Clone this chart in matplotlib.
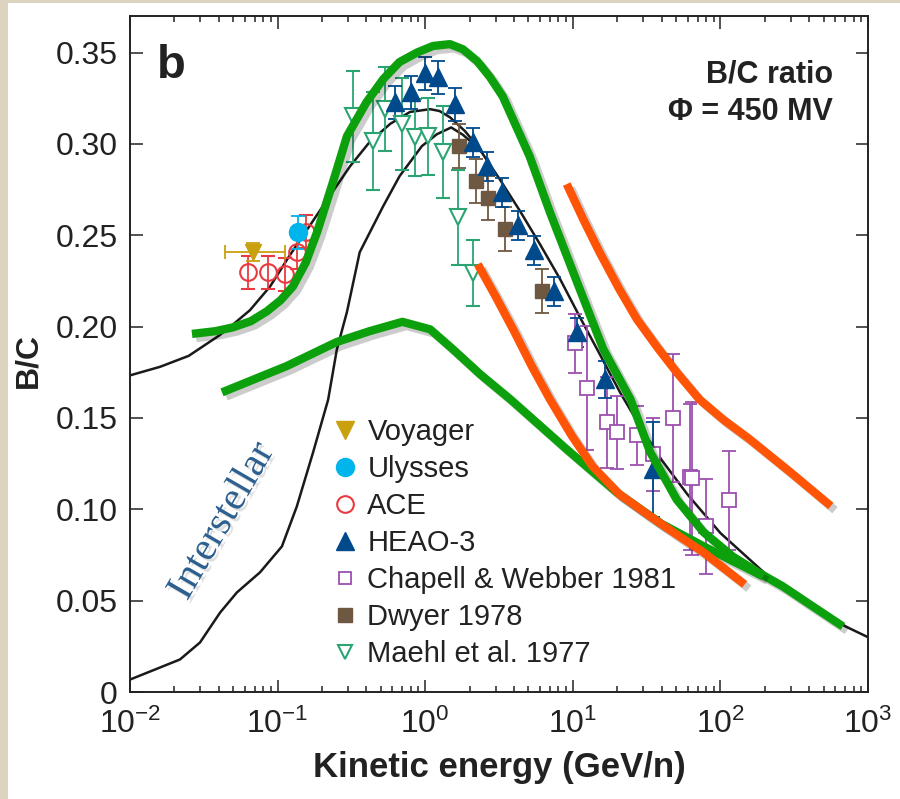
import matplotlib.pyplot as plt
import matplotlib.patheffects as pe
from matplotlib.lines import Line2D
from matplotlib.patches import Rectangle
from matplotlib.ticker import LogLocator, FuncFormatter

plt.rcParams['font.family'] = ['Liberation Sans', 'DejaVu Sans']
plt.rcParams['mathtext.fontset'] = 'custom'
plt.rcParams['mathtext.rm'] = 'Liberation Sans'
plt.rcParams['mathtext.it'] = 'Liberation Sans:italic'
plt.rcParams['mathtext.bf'] = 'Liberation Sans:bold'

# ---- data (E in GeV/n, B/C ratio) ----
voyager_e = [0.068]
voyager_v = [0.241]
voyager_xerr = [[0.024], [0.044]]
voyager_err = [0.005]

ulysses_e = [0.137]
ulysses_v = [0.2516]
ulysses_err = [0.009]

ace_e = [0.063, 0.086, 0.112, 0.135, 0.156]
ace_v = [0.2297, 0.2297, 0.2287, 0.2407, 0.252]
ace_err = [0.009, 0.009, 0.009, 0.009, 0.009]

heao_e = [0.624, 0.801, 0.997, 1.22, 1.59, 2.11, 2.62, 3.31, 4.26, 5.46, 7.46, 10.7, 16.5, 34.9]
heao_v = [0.3228, 0.3283, 0.3387, 0.3365, 0.3217, 0.3009, 0.2878, 0.2735, 0.2555, 0.2418,
          0.2193, 0.1969, 0.1711, 0.1219]
heao_err = [0.009, 0.009, 0.009, 0.009, 0.009, 0.008, 0.008, 0.008, 0.008, 0.008,
            0.008, 0.008, 0.010, 0.026]

chap_e = [10.35, 12.5, 17.1, 19.9, 27.2, 34.9, 47.7, 62.0, 64.3, 79.8, 114]
chap_v = [0.1908, 0.1662, 0.1476, 0.1421, 0.1405, 0.1300, 0.1498, 0.1175, 0.1169, 0.0907, 0.1049]
chap_err = [0.016, 0.034, 0.025, 0.020, 0.016, 0.020, 0.035, 0.040, 0.042, 0.026, 0.027]

dwyer_e = [1.69, 2.21, 2.66, 3.47, 6.18]
dwyer_v = [0.2988, 0.2795, 0.2702, 0.2532, 0.2193]
dwyer_err = [0.012, 0.012, 0.012, 0.012, 0.012]

maehl_e = [0.324, 0.443, 0.534, 0.696, 0.853, 1.045, 1.32, 1.67, 2.11]
maehl_v = [0.3151, 0.3015, 0.3190, 0.3108, 0.3036, 0.3042, 0.2955, 0.2598, 0.2292]
maehl_err = [0.025, 0.027, 0.023, 0.025, 0.021, 0.021, 0.025, 0.026, 0.018]

# model curves
mod_e = [0.01, 0.016, 0.025, 0.04, 0.048, 0.065, 0.089, 0.12, 0.166, 0.23, 0.31, 0.42, 0.58,
         0.79, 1.08, 1.25, 1.47, 1.86, 2.34, 3.2, 4.4, 6.0, 8.2, 11.2, 15.2, 20.9, 28.5,
         40, 60, 100, 200, 400, 700, 1000]
mod_v = [0.1733, 0.178, 0.184, 0.195, 0.200, 0.209, 0.222, 0.2386, 0.2555, 0.2725, 0.2878,
         0.301, 0.311, 0.3175, 0.319, 0.318, 0.3146, 0.307, 0.297, 0.2806, 0.2631, 0.245,
         0.226, 0.205, 0.185, 0.164, 0.1455, 0.127, 0.108, 0.087, 0.065, 0.048, 0.036, 0.030]

ism_e = [0.01, 0.0218, 0.0298, 0.0408, 0.053, 0.076, 0.107, 0.135, 0.174, 0.22, 0.252, 0.295,
         0.36, 0.52, 0.67, 0.95, 1.2, 1.5, 1.8, 2.34]
ism_v = [0.0068, 0.0178, 0.0271, 0.0435, 0.0545, 0.0655, 0.0797, 0.1016, 0.1312, 0.160, 0.1875,
         0.208, 0.2407, 0.266, 0.2823, 0.2988, 0.3053, 0.309, 0.305, 0.297]

# hand-drawn overlays
g1_e = [0.0263, 0.038, 0.0499, 0.066, 0.0847, 0.105, 0.127, 0.155, 0.185, 0.237, 0.295, 0.40,
        0.52, 0.67, 0.88, 1.13, 1.47, 1.8, 2.25, 2.75, 3.35, 5.1, 7.0, 10.7, 16.1, 24.6,
        33.4, 50.5, 76.6, 121, 180, 265, 420, 676]
g1_v = [0.196, 0.1975, 0.1996, 0.203, 0.2084, 0.2145, 0.222, 0.235, 0.2516, 0.279, 0.3042,
        0.3228, 0.3355, 0.3448, 0.350, 0.3536, 0.3546, 0.3518, 0.3453, 0.3365, 0.326,
        0.2932, 0.2626, 0.2242, 0.1876, 0.1602, 0.1314, 0.1054, 0.0876, 0.0742, 0.0655,
        0.0578, 0.047, 0.0359]

g2_e = [0.042, 0.116, 0.252, 0.42, 0.70, 1.08, 1.54, 2.35, 3.75, 9.1, 19.9, 40, 76.6, 195]
g2_v = [0.164, 0.1785, 0.1916, 0.1975, 0.2026, 0.1985, 0.1876, 0.174, 0.1604, 0.1328,
        0.1092, 0.092, 0.0798, 0.0633]

o1_e = [2.27, 3.0, 4.0, 5.3, 7.0, 9.8, 13.6, 20.5, 33.4, 52, 76.6, 146]
o1_v = [0.2341, 0.2165, 0.1975, 0.178, 0.1602, 0.1405, 0.1235, 0.1085, 0.0962, 0.0855,
        0.0765, 0.0589]

o2_e = [9.1, 11.8, 15.2, 20.5, 27.2, 37.5, 50.5, 72, 105, 157, 297, 560]
o2_v = [0.278, 0.2585, 0.2406, 0.221, 0.204, 0.1885, 0.175, 0.1602, 0.149, 0.1385, 0.1204,
        0.1018]

yticks = [0, 0.05, 0.10, 0.15, 0.20, 0.25, 0.30, 0.35]

c_voy = '#c9a00e'
c_uly = '#00b4ec'
c_ace = '#e83a40'
c_heao = '#004a8c'
c_chap = '#9b50ae'
c_dwy = '#6f5841'
c_mae = '#2aa572'
c_green = '#0ca00c'
c_orange = '#ff5306'

fig = plt.figure(figsize=(9, 7.99), dpi=100, facecolor='#dcd4bf')
fig.patches.append(Rectangle((8 / 900, 0), 1, 1 - 3 / 799, transform=fig.transFigure,
                             facecolor='white', edgecolor='none', zorder=-10))
ax = fig.add_axes([130 / 900, 1 - 692 / 799, 738 / 900, 676 / 799])
ax.set_xscale('log')

ax.plot(mod_e, mod_v, color='#1a1a1a', lw=1.8, zorder=2)
ax.plot(ism_e, ism_v, color='#1a1a1a', lw=1.8, zorder=2)

eb = dict(ls='none', elinewidth=1.3, capsize=4.7, capthick=1.3, zorder=3)
ax.errorbar(maehl_e, maehl_v, yerr=maehl_err, fmt='v', color=c_mae, mfc='white',
            mec=c_mae, ms=11, mew=1.5, **eb)
ax.errorbar(chap_e, chap_v, yerr=chap_err, fmt='s', color=c_chap, mfc='white',
            mec=c_chap, ms=10, mew=1.3, **eb)
ax.errorbar(dwyer_e, dwyer_v, yerr=dwyer_err, fmt='s', color=c_dwy, ms=10.5, **eb)
ax.errorbar(heao_e, heao_v, yerr=heao_err, fmt='^', color=c_heao, ms=13, **eb)
ax.errorbar(ace_e, ace_v, yerr=ace_err, fmt='o', color=c_ace, mfc='none', mec=c_ace,
            ms=12, mew=1.5, **eb)
ax.errorbar(voyager_e, voyager_v, xerr=voyager_xerr, yerr=voyager_err, fmt='v',
            color=c_voy, ms=12, **eb)
ax.errorbar(ulysses_e, ulysses_v, yerr=ulysses_err, fmt='o', color=c_uly, ms=13, **eb)

shadow = [pe.SimpleLineShadow(offset=(3, -3), shadow_color='k', alpha=0.2), pe.Normal()]
for xs, ys, col in [(g1_e, g1_v, c_green), (g2_e, g2_v, c_green),
                    (o1_e, o1_v, c_orange), (o2_e, o2_v, c_orange)]:
    ax.plot(xs, ys, color=col, lw=6.0, solid_capstyle='butt', solid_joinstyle='round',
            zorder=5, path_effects=shadow)

ax.set_xlim(1e-2, 1e3)
ax.set_ylim(0, 0.37)
ax.set_yticks(yticks)
ax.yaxis.set_major_formatter(FuncFormatter(lambda v, p: '0' if v == 0 else '%.2f' % v))
ax.xaxis.set_major_locator(LogLocator(base=10, numticks=10))
ax.xaxis.set_minor_locator(LogLocator(base=10, subs=range(2, 10), numticks=20))
ax.tick_params(which='both', direction='in', top=True, right=True, width=1.1,
               colors='#222222')
ax.tick_params(which='major', length=9, labelsize=23, pad=9)
ax.tick_params(which='minor', length=4.5)
ax.tick_params(axis='x', which='major', pad=12)
for s in ax.spines.values():
    s.set_linewidth(1.4)
    s.set_color('#222222')

ax.set_xlabel('Kinetic energy (GeV/n)', fontsize=25, fontweight='bold', color='#222222')
ax.set_ylabel('B/C', fontsize=23, fontweight='bold', color='#222222')
ax.xaxis.set_label_coords(0.5, -0.088)
ax.yaxis.set_label_coords(-0.118, 0.49)

ax.text(0.036, 0.908, 'b', transform=ax.transAxes, fontsize=34, fontweight='bold',
        ha='left', va='baseline', color='#222222')
ax.text(0.953, 0.902, 'B/C ratio', transform=ax.transAxes, fontsize=22, fontweight='bold',
        ha='right', va='baseline', color='#222222')
ax.text(0.953, 0.846, '\u03a6 = 450 MV', transform=ax.transAxes, fontsize=22,
        fontweight='bold', ha='right', va='baseline', color='#222222')

ax.text(0.125, 0.252, 'Interstellar', transform=ax.transAxes, fontsize=29,
        family=['Liberation Serif', 'DejaVu Serif'], color='#2d5f8f', rotation=60,
        ha='center', va='center', zorder=4,
        path_effects=[pe.withSimplePatchShadow(offset=(2, -2), shadow_rgbFace='#999999',
                                               alpha=0.3)])

handles = [
    Line2D([], [], ls='none', marker='v', color=c_voy, ms=13),
    Line2D([], [], ls='none', marker='o', color=c_uly, ms=13),
    Line2D([], [], ls='none', marker='o', mfc='white', mec=c_ace, mew=1.5, ms=12),
    Line2D([], [], ls='none', marker='^', color=c_heao, ms=13),
    Line2D([], [], ls='none', marker='s', mfc='white', mec=c_chap, mew=1.3, ms=9),
    Line2D([], [], ls='none', marker='s', color=c_dwy, ms=10),
    Line2D([], [], ls='none', marker='v', mfc='white', mec=c_mae, mew=1.5, ms=10),
]
labels = ['Voyager', 'Ulysses', 'ACE', 'HEAO-3', 'Chapell & Webber 1981', 'Dwyer 1978',
          'Maehl et al. 1977']
leg = ax.legend(handles, labels, loc='upper left', bbox_to_anchor=(0.2778, 0.405),
                frameon=False, fontsize=21, handlelength=0.7, handletextpad=0.41,
                labelspacing=0.31, borderpad=0, borderaxespad=0, numpoints=1)
for t in leg.get_texts():
    t.set_color('#222222')

fig.savefig('out.png', dpi=100, facecolor=fig.get_facecolor())
